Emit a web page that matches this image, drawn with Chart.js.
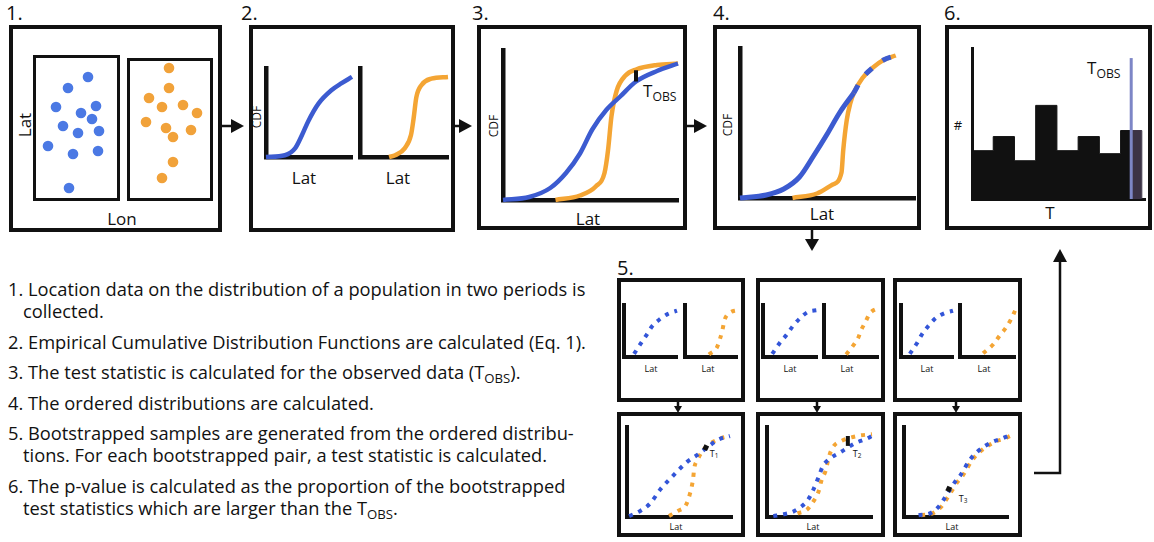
<!doctype html>
<html lang="en">
<head>
<meta charset="utf-8">
<title>Bootstrapped KS test workflow</title>
<script src="https://cdn.jsdelivr.net/npm/chart.js@4"></script>
<style>
  body { margin:0; width:1154px; height:542px; position:relative; overflow:hidden;
         background:#fff; color:#111; font-family:"Open Sans", sans-serif; }
  .frame { position:absolute; box-sizing:border-box; border:4px solid #111; }
  .box { position:absolute; box-sizing:border-box; border:3px solid #111; }
  .lbl { position:absolute; transform:translate(-50%,-50%); white-space:nowrap; line-height:1; font-size:17px; }
  .rot { transform:translate(-50%,-50%) rotate(-90deg); }
  .num { position:absolute; font-size:20px; line-height:1; }
  .tiny { font-size:9px; }
  .steps { position:absolute; left:8px; top:278px; font-size:18.3px; line-height:22px; }
  .steps p { margin:0 0 8.5px 0; padding-left:15px; text-indent:-15px; white-space:nowrap; }
  sub { font-size:0.72em; vertical-align:-0.3em; line-height:0; }
  canvas { position:absolute; }
  svg { position:absolute; left:0; top:0; }
</style>
</head>
<body>

<!-- panel frames -->
<div class="frame" style="left:9px;top:25px;width:213px;height:207px"></div>
<div class="box" style="left:33px;top:55px;width:87px;height:146px"></div>
<div class="box" style="left:127px;top:58px;width:86px;height:143px"></div>
<div class="frame" style="left:249px;top:25px;width:206px;height:207px"></div>
<div class="frame" style="left:477px;top:25px;width:210px;height:205px"></div>
<div class="frame" style="left:713px;top:25px;width:208px;height:205px"></div>
<div class="frame" style="left:945px;top:25px;width:207px;height:205px"></div>

<div class="frame" style="left:617px;top:278px;width:128px;height:124px"></div>
<div class="frame" style="left:756px;top:278px;width:129px;height:124px"></div>
<div class="frame" style="left:893px;top:278px;width:129px;height:124px"></div>
<div class="frame" style="left:617px;top:412px;width:128px;height:125px"></div>
<div class="frame" style="left:756px;top:412px;width:129px;height:125px"></div>
<div class="frame" style="left:893px;top:412px;width:129px;height:125px"></div>

<!-- panel numbers -->
<div class="num" style="left:6px;top:3px">1.</div>
<div class="num" style="left:241px;top:3px">2.</div>
<div class="num" style="left:472px;top:3px">3.</div>
<div class="num" style="left:713px;top:3px">4.</div>
<div class="num" style="left:944px;top:3px">6.</div>
<div class="num" style="left:617px;top:258px">5.</div>

<!-- axis words -->
<div class="lbl rot" style="left:24px;top:125px">Lat</div>
<div class="lbl" style="left:122px;top:218px">Lon</div>
<div class="lbl rot" style="left:257px;top:117px;font-size:12px">CDF</div>
<div class="lbl" style="left:304px;top:177px">Lat</div>
<div class="lbl" style="left:398px;top:177px">Lat</div>
<div class="lbl rot" style="left:494px;top:126px;font-size:12px">CDF</div>
<div class="lbl" style="left:588px;top:218px">Lat</div>
<div class="lbl" style="position:absolute;left:643px;top:82px;transform:none">T<sub>OBS</sub></div>
<div class="lbl rot" style="left:728px;top:125px;font-size:12px">CDF</div>
<div class="lbl" style="left:822px;top:213px">Lat</div>
<div class="lbl" style="left:1087px;top:59px;transform:none">T<sub>OBS</sub></div>
<div class="lbl" style="left:958px;top:125px;font-size:13px">#</div>
<div class="lbl" style="left:1050px;top:212px">T</div>

<div class="lbl tiny" style="left:651px;top:368px">Lat</div>
<div class="lbl tiny" style="left:708px;top:368px">Lat</div>
<div class="lbl tiny" style="left:790px;top:368px">Lat</div>
<div class="lbl tiny" style="left:847px;top:368px">Lat</div>
<div class="lbl tiny" style="left:927px;top:368px">Lat</div>
<div class="lbl tiny" style="left:984px;top:368px">Lat</div>
<div class="lbl tiny" style="left:676px;top:526px">Lat</div>
<div class="lbl tiny" style="left:813px;top:526px">Lat</div>
<div class="lbl tiny" style="left:952px;top:526px">Lat</div>
<div class="lbl tiny" style="left:714px;top:453px">T<sub>1</sub></div>
<div class="lbl tiny" style="left:857px;top:453px">T<sub>2</sub></div>
<div class="lbl tiny" style="left:963px;top:498px">T<sub>3</sub></div>

<!-- step descriptions -->
<div class="steps">
  <p>1. Location data on the distribution of a population in two periods is<br>collected.</p>
  <p>2. Empirical Cumulative Distribution Functions are calculated (Eq. 1).</p>
  <p>3. The test statistic is calculated for the observed data (T<sub>OBS</sub>).</p>
  <p>4. The ordered distributions are calculated.</p>
  <p>5. Bootstrapped samples are generated from the ordered distribu-<br>tions. For each bootstrapped pair, a test statistic is calculated.</p>
  <p>6. The p-value is calculated as the proportion of the bootstrapped<br>test statistics which are larger than the T<sub>OBS</sub>.</p>
</div>

<!-- flow arrows -->
<svg width="1154" height="542">
  <g stroke="#111" stroke-width="2.5" fill="none">
    <line x1="222" y1="126" x2="233" y2="126"/>
    <line x1="455" y1="126" x2="461" y2="126"/>
    <line x1="687" y1="126" x2="696" y2="126"/>
    <line x1="812" y1="230" x2="812" y2="241"/>
    <polyline points="1034,473 1060,473 1060,260"/>
    <line x1="678" y1="401" x2="678" y2="407"/>
    <line x1="817" y1="401" x2="817" y2="407"/>
    <line x1="956" y1="401" x2="956" y2="407"/>
  </g>
  <g fill="#111">
    <polygon points="244,126 231,119 231,133"/>
    <polygon points="472,126 459,119 459,133"/>
    <polygon points="707,126 694,119 694,133"/>
    <polygon points="812,251 805,239 819,239"/>
    <polygon points="1060,249 1053,262 1067,262"/>
    <polygon points="678,413 674,406 682,406"/>
    <polygon points="817,413 813,406 821,406"/>
    <polygon points="956,413 952,406 960,406"/>
  </g>
</svg>

<script>
    const BLUE = "#3c5bd0", ORANGE = "#f4a534";

    // 1. raw locations, two periods (lon, lat in box units)
    const lonA = [55, 35, 23, 48, 63, 59, 30, 45, 66, 15, 40, 65, 36];
    const latA = [124, 113, 94, 88, 95, 82, 75, 68, 70, 55, 47, 50, 13];
    const lonB = [42, 42, 22, 35, 56, 70, 19, 39, 64, 46, 46, 35];
    const latB = [133, 113, 103, 94, 96, 88, 79, 73, 71, 64, 39, 23];

    // 2. separate ECDFs
    const p2LatA = [0.0, 0.22, 0.34, 0.42, 0.49, 0.61, 0.76, 0.88, 1.0];
    const p2CdfA = [0.0, 0.02, 0.10, 0.25, 0.40, 0.60, 0.75, 0.83, 0.90];
    const p2LatB = [0.33, 0.40, 0.51, 0.58, 0.61, 0.64, 0.70, 0.81, 1.0];
    const p2CdfB = [0.0, 0.02, 0.10, 0.25, 0.44, 0.67, 0.81, 0.88, 0.90];

    // 3. overlaid ECDFs and observed statistic
    const p3LatA = [0.0, 0.15, 0.27, 0.36, 0.44, 0.51, 0.59, 0.67, 0.76, 0.88, 1.0];
    const p3CdfA = [0.0, 0.02, 0.08, 0.18, 0.31, 0.47, 0.60, 0.69, 0.79, 0.86, 0.91];
    const p3LatB = [0.30, 0.44, 0.53, 0.58, 0.60, 0.62, 0.65, 0.70, 0.76, 0.88, 1.0];
    const p3CdfB = [0.0, 0.03, 0.09, 0.18, 0.33, 0.56, 0.73, 0.83, 0.87, 0.90, 0.91];
    const tObsLat = [0.76, 0.76];
    const tObsCdf = [0.79, 0.865];

    // 4. ordered distributions
    const p4LatA = [0.0, 0.15, 0.25, 0.34, 0.42, 0.50, 0.57, 0.65];
    const p4CdfA = [0.0, 0.02, 0.06, 0.14, 0.28, 0.43, 0.57, 0.70];
    const p4LatB = [0.30, 0.44, 0.53, 0.58, 0.59, 0.61, 0.63, 0.65, 0.70, 0.76, 0.82, 0.89];
    const p4CdfB = [0.0, 0.03, 0.09, 0.17, 0.32, 0.52, 0.63, 0.70, 0.80, 0.87, 0.92, 0.95];
    const p4LatTop = [0.65, 0.70, 0.76, 0.82, 0.89];
    const p4CdfTop = [0.70, 0.80, 0.87, 0.92, 0.95];

    // 5. bootstrapped samples, top row (separate) and bottom row (overlaid)
    const aLatBlue = [0.19, 0.33, 0.43, 0.53, 0.68, 0.83, 1.0];
    const aCdfBlue = [0.06, 0.28, 0.43, 0.59, 0.73, 0.83, 0.89];
    const aLatOrange = [0.46, 0.61, 0.67, 0.72, 0.76, 0.86, 1.0];
    const aCdfOrange = [0.05, 0.18, 0.34, 0.52, 0.71, 0.85, 0.90];
    const bLatBlue = [0.17, 0.31, 0.44, 0.55, 0.69, 0.84, 1.0];
    const bCdfBlue = [0.06, 0.27, 0.43, 0.59, 0.75, 0.87, 0.90];
    const bLatOrange = [0.41, 0.54, 0.63, 0.69, 0.77, 0.85, 1.0];
    const bCdfOrange = [0.05, 0.22, 0.36, 0.52, 0.68, 0.84, 0.94];
    const cLatBlue = [0.17, 0.31, 0.40, 0.53, 0.67, 0.83, 1.0];
    const cCdfBlue = [0.06, 0.27, 0.43, 0.60, 0.75, 0.84, 0.89];
    const cLatOrange = [0.42, 0.61, 0.72, 0.84, 0.93, 1.0];
    const cCdfOrange = [0.07, 0.25, 0.41, 0.57, 0.73, 0.89];

    const dLatBlue = [0.02, 0.13, 0.22, 0.32, 0.44, 0.57, 0.67, 0.76, 0.87, 0.98];
    const dCdfBlue = [0.01, 0.07, 0.15, 0.31, 0.46, 0.61, 0.69, 0.77, 0.86, 0.90];
    const dLatOrange = [0.40, 0.49, 0.56, 0.60, 0.63, 0.64, 0.67, 0.73, 0.86, 0.98];
    const dCdfOrange = [0.01, 0.07, 0.13, 0.26, 0.43, 0.54, 0.63, 0.75, 0.86, 0.90];
    const eLatBlue = [0.06, 0.16, 0.25, 0.32, 0.39, 0.44, 0.49, 0.53, 0.60, 0.70, 0.84, 0.95, 1.0];
    const eCdfBlue = [0.01, 0.03, 0.06, 0.11, 0.19, 0.30, 0.44, 0.56, 0.65, 0.72, 0.82, 0.87, 0.90];
    const eLatOrange = [0.29, 0.38, 0.44, 0.49, 0.52, 0.56, 0.59, 0.63, 0.70, 0.86, 1.0];
    const eCdfOrange = [0.04, 0.08, 0.17, 0.28, 0.41, 0.52, 0.67, 0.78, 0.84, 0.90, 0.92];
    const fLatBlue = [0.14, 0.25, 0.33, 0.38, 0.44, 0.49, 0.54, 0.63, 0.70, 0.78, 0.86, 0.94, 1.0];
    const fCdfBlue = [0.02, 0.04, 0.11, 0.19, 0.30, 0.39, 0.46, 0.63, 0.72, 0.79, 0.84, 0.87, 0.90];
    const fLatOrange = [0.165, 0.275, 0.355, 0.405, 0.465, 0.515, 0.565, 0.655, 0.725, 0.805, 0.885, 0.965, 1.02];
    const fCdfOrange = [0.02, 0.04, 0.11, 0.19, 0.30, 0.39, 0.46, 0.63, 0.72, 0.79, 0.84, 0.87, 0.90];
    const t1 = [0.75, 0.77];
    const t2Lat = [0.77, 0.77], t2Cdf = [0.79, 0.90];
    const t3 = [0.43, 0.31];

    // 6. histogram of bootstrapped statistics
    const binEdges = [0, 1, 2, 3, 4, 5, 6, 7, 7.5, 8];
    const binCounts = [4.8, 6.2, 3.8, 9.3, 4.8, 6.2, 4.5, 6.8, 6.8];
    const tObsValue = 7.5, tObsTop = 14;

    function pts(xs, ys) { return xs.map((v, i) => ({x: v, y: ys[i]})); }

    function curve(xs, ys, color, width, dash, order) {
        return {data: pts(xs, ys), borderColor: color, borderWidth: width,
                borderDash: dash || [], borderCapStyle: "butt", pointRadius: 0,
                cubicInterpolationMode: "monotone", fill: false, clip: 12, order: order || 0};
    }
    function marker(p) {
        return {data: [{x: p[0], y: p[1]}], showLine: false, pointStyle: "rect", pointRadius: 3.6,
                pointRotation: 25, pointBackgroundColor: "#111", pointBorderWidth: 0, clip: 12, order: -1};
    }
    function dots(xs, ys, color) {
        return {data: pts(xs, ys), showLine: false, pointRadius: 5.3, pointBackgroundColor: color,
                pointBorderWidth: 0, clip: 12};
    }

    // left/top/w/h are the chart area (axis corner sits at left, top+h)
    function plot(left, top, w, h, datasets, o) {
        o = o || {};
        const pad = 8;
        const cv = document.createElement("canvas");
        cv.width = w + 2 * pad; cv.height = h + 2 * pad;
        cv.style.left = (left - pad) + "px"; cv.style.top = (top - pad) + "px";
        document.body.appendChild(cv);
        const show = o.axes !== false, bw = o.bw || 4;
        const axis = (max) => ({type: "linear", min: 0, max: max, display: show,
                                grid: {display: false, drawTicks: false}, ticks: {display: false},
                                border: {display: show, width: bw, color: "#111"}});
        new Chart(cv, {
            type: "line",
            data: {datasets: datasets},
            options: {
                responsive: false, animation: false, events: [],
                layout: {padding: pad},
                plugins: {legend: {display: false}, tooltip: {enabled: false}},
                scales: {x: axis(o.xmax || 1), y: axis(o.ymax || 1)}
            }
        });
    }

    // 1.
    plot(33, 55, 87, 146, [dots(lonA, latA, "#4b79e4")], {xmax: 87, ymax: 146, axes: false});
    plot(127, 58, 86, 143, [dots(lonB, latB, "#f1a23a")], {xmax: 86, ymax: 143, axes: false});

    // 2.
    plot(266, 68, 86, 89, [curve(p2LatA, p2CdfA, BLUE, 4.5)], {bw: 4.5});
    plot(360, 68, 88, 89, [curve(p2LatB, p2CdfB, ORANGE, 4.5)], {bw: 4.5});

    // 3.
    plot(503, 50, 175, 150, [
        curve(p3LatA, p3CdfA, BLUE, 4.5, null, 0),
        curve(p3LatB, p3CdfB, ORANGE, 4.5, null, 1),
        curve(tObsLat, tObsCdf, "#111", 4, null, -1)
    ], {bw: 4.5});

    // 4.
    plot(740, 48, 175, 150, [
        curve(p4LatA, p4CdfA, BLUE, 5, null, 0),
        curve(p4LatB, p4CdfB, ORANGE, 4.5, null, 1),
        curve(p4LatTop, p4CdfTop, BLUE, 5, [9, 13], 0)
    ], {bw: 4.5});

    // 5. top row
    const dash = [4, 6];
    plot(624, 305, 53, 52, [curve(aLatBlue, aCdfBlue, "#3355d8", 4, dash)]);
    plot(685, 305, 52, 52, [curve(aLatOrange, aCdfOrange, ORANGE, 4, dash)]);
    plot(763, 305, 54, 52, [curve(bLatBlue, bCdfBlue, "#3355d8", 4, dash)]);
    plot(824, 305, 54, 52, [curve(bLatOrange, bCdfOrange, ORANGE, 4, dash)]);
    plot(901, 305, 52, 52, [curve(cLatBlue, cCdfBlue, "#3355d8", 4, dash)]);
    plot(960, 305, 55, 52, [curve(cLatOrange, cCdfOrange, ORANGE, 4, dash)]);

    // 5. bottom row
    plot(627, 427, 105, 90, [
        curve(dLatBlue, dCdfBlue, "#3355d8", 4, dash, 0),
        curve(dLatOrange, dCdfOrange, ORANGE, 4, dash, 1),
        marker(t1)
    ]);
    plot(767, 427, 105, 90, [
        curve(eLatBlue, eCdfBlue, "#3355d8", 4, dash, 0),
        curve(eLatOrange, eCdfOrange, ORANGE, 4, dash, 1),
        curve(t2Lat, t2Cdf, "#111", 4, null, -1)
    ]);
    plot(904, 427, 104, 90, [
        curve(fLatBlue, fCdfBlue, "#3355d8", 4, dash, 0),
        curve(fLatOrange, fCdfOrange, ORANGE, 4, dash, 1),
        marker(t3)
    ]);

    // 6.
    const histMain = binEdges.slice(0, 8).map((e, i) => ({x: e, y: binCounts[i]}));
    histMain.push({x: binEdges[8], y: 0});
    plot(972, 48, 173, 151, [
        {data: histMain, stepped: "before", fill: "origin", backgroundColor: "#111",
         borderColor: "#111", borderWidth: 1, pointRadius: 0, order: 2},
        {data: [{x: binEdges[8], y: binCounts[8]}, {x: binEdges[9], y: 0}], stepped: "before",
         fill: "origin", backgroundColor: "#3c3346", borderColor: "#3c3346", borderWidth: 1,
         pointRadius: 0, order: 1},
        {data: [{x: tObsValue, y: 0}, {x: tObsValue, y: tObsTop}], borderColor: "#7d86c6",
         borderWidth: 3, pointRadius: 0, fill: false, order: 0}
    ], {xmax: 8.15, ymax: 15, bw: 3});
</script>
</body>
</html>
